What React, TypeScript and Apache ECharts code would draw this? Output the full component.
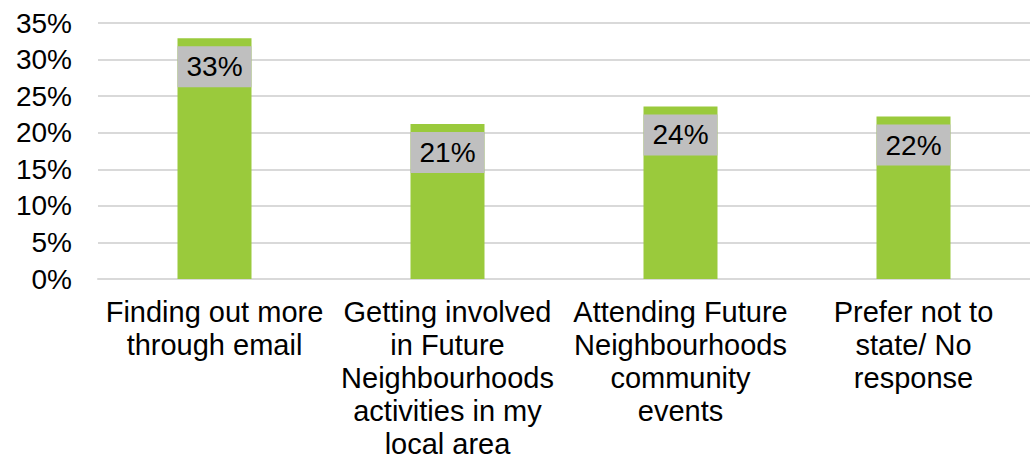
import React, { useEffect, useRef } from "react";
import * as echarts from "echarts";

const categories: string[] = [
  "Finding out more\nthrough email",
  "Getting involved\nin Future\nNeighbourhoods\nactivities in my\nlocal area",
  "Attending Future\nNeighbourhoods\ncommunity\nevents",
  "Prefer not to\nstate/ No\nresponse",
];
const values: number[] = [32.9, 21.2, 23.6, 22.2];
const valueLabels: string[] = ["33%", "21%", "24%", "22%"];
const yTicks = { min: 0, max: 35, interval: 5 };

const FONT = "'Liberation Sans', Arial, sans-serif";

export default function App() {
  const ref = useRef<HTMLDivElement>(null);
  useEffect(() => {
    if (!ref.current) return;
    const chart = echarts.init(ref.current, null, { renderer: "svg" });
    chart.setOption({
      animation: false,
      backgroundColor: "#ffffff",
      grid: { left: 98, top: 23, width: 935, height: 256, containLabel: false },
      xAxis: {
        type: "category",
        data: categories,
        axisLine: { show: true, lineStyle: { color: "#D9D9D9", width: 2 } },
        axisTick: { show: false },
        axisLabel: {
          interval: 0,
          color: "#000",
          fontFamily: FONT,
          fontSize: 29,
          lineHeight: 33,
          margin: 16,
        },
      },
      yAxis: {
        type: "value",
        min: yTicks.min,
        max: yTicks.max,
        interval: yTicks.interval,
        axisLine: { show: false },
        axisTick: { show: false },
        splitLine: { lineStyle: { color: "#D9D9D9", width: 2 } },
        axisLabel: {
          formatter: (v: number) => `${v}%`,
          color: "#000",
          fontFamily: FONT,
          fontSize: 28,
          margin: 26,
        },
      },
      series: [
        {
          type: "bar",
          data: values,
          barWidth: 74,
          itemStyle: { color: "#9ACA3C" },
          label: {
            show: true,
            position: "insideTop",
            distance: 8,
            formatter: (p: any) => valueLabels[p.dataIndex],
            color: "#000",
            fontFamily: FONT,
            fontSize: 28,
            lineHeight: 29,
            backgroundColor: "#BFBFBF",
            padding: [6, 9, 6, 9],
          },
        },
      ],
    });
    return () => chart.dispose();
  }, []);
  return (
    <div
      ref={ref}
      style={{ position: "fixed", left: 0, top: 0, width: 1030, height: 461 }}
    />
  );
}
